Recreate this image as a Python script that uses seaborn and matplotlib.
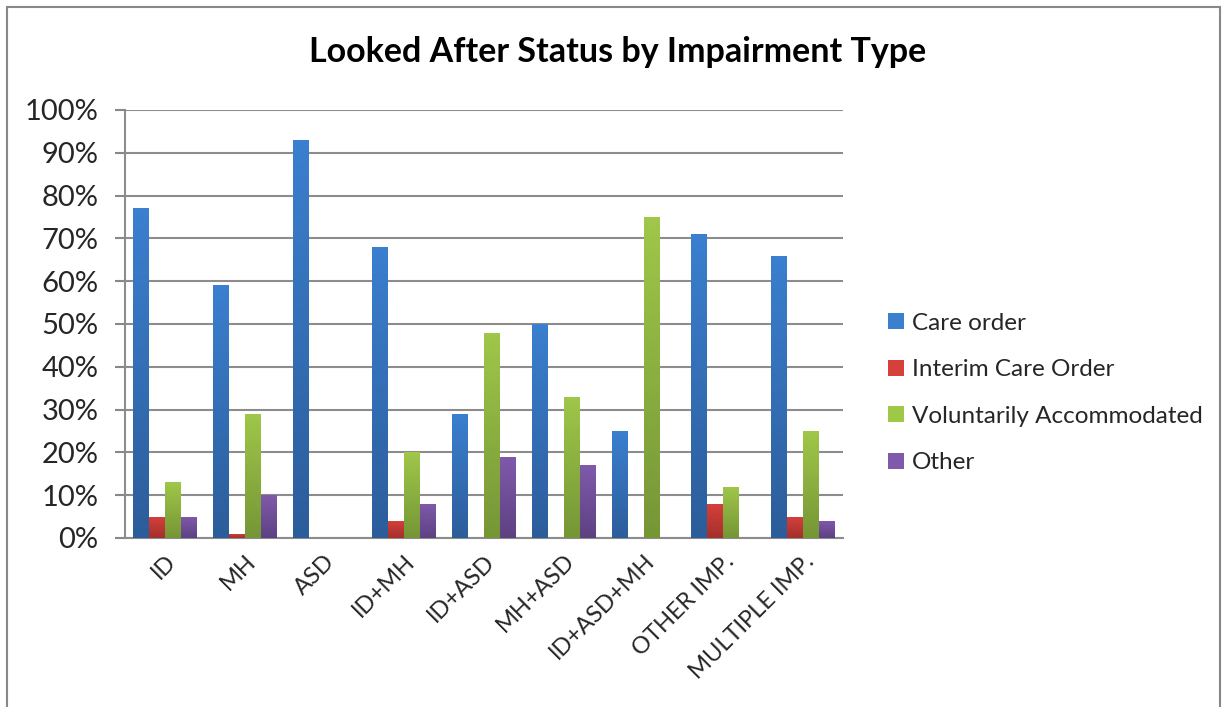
import numpy as np
import pandas as pd
import seaborn as sns
import matplotlib.pyplot as plt
from matplotlib.colors import LinearSegmentedColormap
from matplotlib.patches import Rectangle, Patch

# data (percent)
categories = ["ID", "MH", "ASD", "ID+MH", "ID+ASD", "MH+ASD", "ID+ASD+MH", "OTHER IMP.", "MULTIPLE IMP."]
series = ["Care order", "Interim Care Order", "Voluntarily Accommodated", "Other"]
care_order = [77, 59, 93, 68, 29, 50, 25, 71, 66]
interim_care = [5, 1, 0, 4, 0, 0, 0, 8, 5]
voluntary = [13, 29, 0, 20, 48, 33, 75, 12, 25]
other = [5, 10, 0, 8, 19, 17, 0, 0, 4]
y_ticks = [0, 10, 20, 30, 40, 50, 60, 70, 80, 90, 100]

# gradient colours (top, bottom) per series
grad = {
    "Care order": ("#3b7fcf", "#2c5d9b"),
    "Interim Care Order": ("#d6403b", "#a3302c"),
    "Voluntarily Accommodated": ("#9fc749", "#769636"),
    "Other": ("#8059ab", "#5d4282"),
}

df = pd.DataFrame({
    "cat": categories * 4,
    "series": sum([[s] * len(categories) for s in series], []),
    "value": care_order + interim_care + voluntary + other,
})

sns.set_style("white")
plt.rcParams["font.family"] = ["Lato", "DejaVu Sans"]

fig = plt.figure(figsize=(12.28, 7.07), dpi=100)
ax = fig.add_axes([125 / 1228, 1 - 538 / 707, 718 / 1228, 428 / 707])

palette = {s: grad[s][0] for s in series}
sns.barplot(data=df, x="cat", y="value", hue="series", hue_order=series, order=categories,
            palette=palette, width=0.8, gap=0, ax=ax, legend=False, errorbar=None)

# excel-ish vertical gradient on each bar
for cont, s in zip(ax.containers, series):
    cmap = LinearSegmentedColormap.from_list(s, [grad[s][1], grad[s][0]])
    for bar in cont:
        h = bar.get_height()
        if h <= 0:
            bar.set_visible(False)
            continue
        x0 = bar.get_x()
        w = bar.get_width()
        img = ax.imshow(np.linspace(0, 1, 64).reshape(-1, 1), cmap=cmap, origin="lower",
                        extent=[x0, x0 + w, 0, h], aspect="auto", zorder=3)
        img.set_clip_path(bar)
        bar.set_facecolor("none")
        bar.set_edgecolor("none")

ax.set_xlim(-0.5, len(categories) - 0.5)
ax.set_ylim(0, 100)
ax.set_yticks(y_ticks)
ax.set_yticklabels([f"{t}%" for t in y_ticks], fontsize=21)
ax.set_xticks(range(len(categories)))
ax.set_xticklabels(categories, rotation=45, ha="right", rotation_mode="anchor", fontsize=17)
ax.set_xticks(np.arange(-0.5, len(categories), 1), minor=True)
ax.tick_params(axis="x", which="major", length=0, pad=9)
ax.tick_params(axis="x", which="minor", length=7, width=1.5, color="#888888", direction="out")
ax.tick_params(axis="y", length=7, width=1.5, color="#888888", pad=12, left=True)
ax.set_xlabel("")
ax.set_ylabel("")

ax.yaxis.grid(True, color="#8c8c8c", linewidth=1.5, zorder=0)
ax.set_axisbelow(True)
for side in ["top", "right"]:
    ax.spines[side].set_visible(False)
for side in ["left", "bottom"]:
    ax.spines[side].set_color("#8c8c8c")
    ax.spines[side].set_linewidth(1.5)

fig.text(618 / 1228, 1 - 52 / 707, "Looked After Status by Impairment Type",
         ha="center", va="center", fontsize=24.5, fontweight="bold", color="black")

handles = [Patch(facecolor=grad[s][0], edgecolor="none") for s in series]
fig.legend(handles, series, loc="center left", bbox_to_anchor=(866 / 1228, 1 - 393 / 707),
           frameon=False, fontsize=17.5, handlelength=0.65, handleheight=0.65,
           handletextpad=0.35, labelspacing=1.05)

# chart area border
fig.patches.append(Rectangle((7 / 1228, -0.1), 1213 / 1228, 1.1 - 7 / 707, transform=fig.transFigure,
                             fill=False, edgecolor="#888888", linewidth=1.5))

fig.savefig("out.png", dpi=100)
